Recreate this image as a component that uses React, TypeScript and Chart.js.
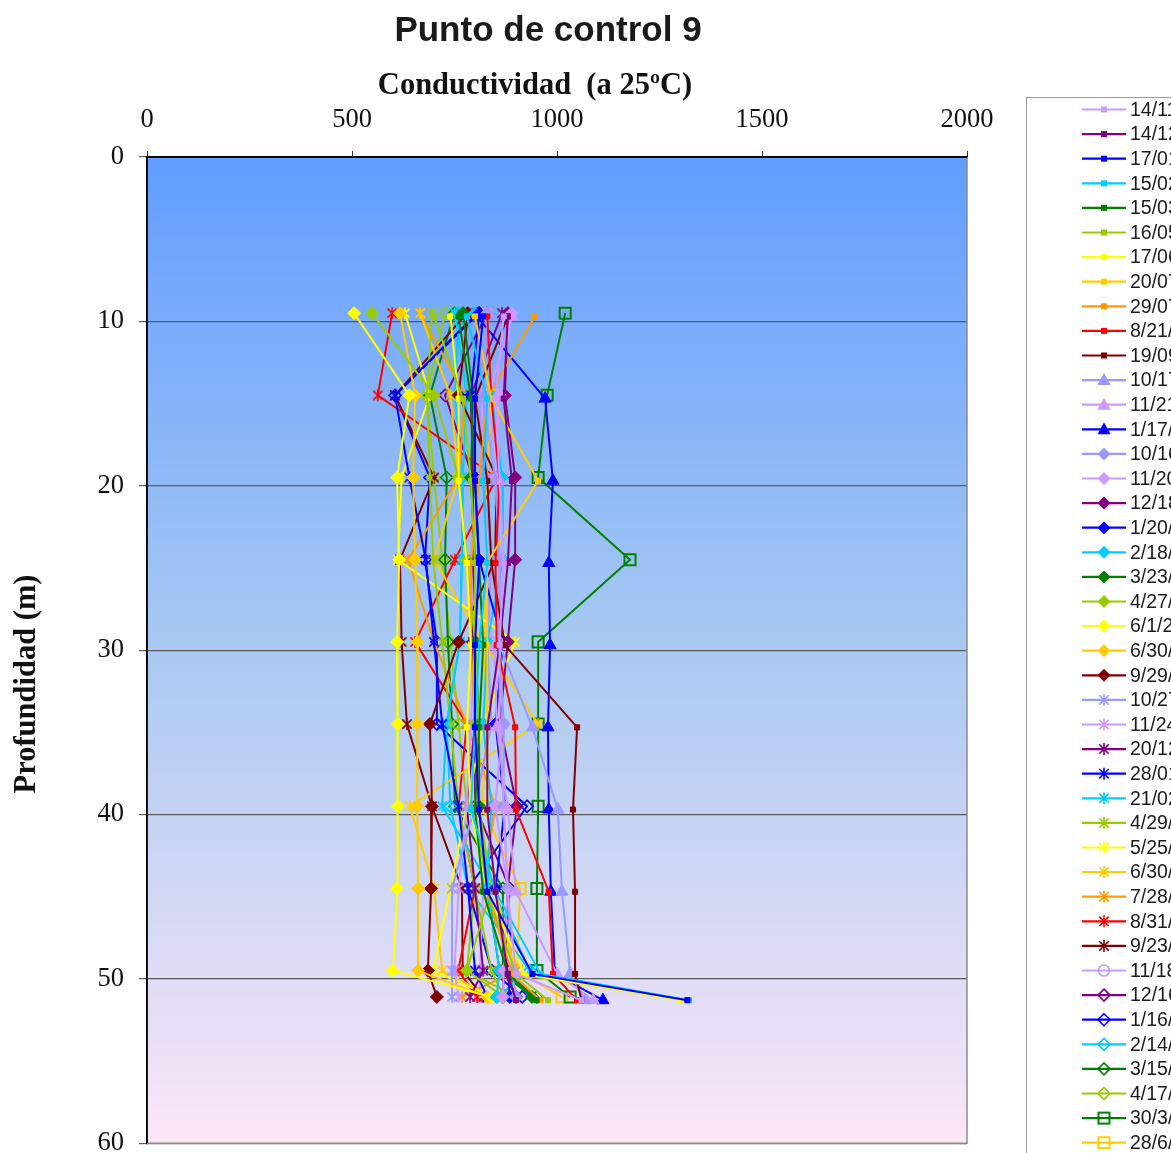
import React, { useEffect, useRef } from "react";
import { Chart, registerables } from "chart.js";
Chart.register(...registerables);

// ---------- axis / tick data ----------
const xTicksMin = 0;
const xTicksMax = 2000;
const xStep = 500;
const yMin = 0;
const yMax = 60;
const yStep = 10;

// depths (m) of the sampling rows
const depthsA = [9.5, 14.5, 19.5, 24.5, 29.5, 34.5, 39.5, 44.5, 49.5, 51.1];
const depthsB = [9.7, 14.7, 19.7, 24.7, 29.7, 34.7, 39.7, 44.7, 49.7, 51.3];

// ---------- series labels ----------
const seriesLabels = [
  "14/11/2005", "14/12/2005", "17/01/2006", "15/02/2006", "15/03/2006", "16/05/2006",
  "17/06/2006", "20/07/2006", "29/07/2006", "8/21/2006", "19/09/2006",
  "10/17/2006", "11/21/2006", "1/17/2007",
  "10/16/2007", "11/20/2007", "12/18/2007", "1/20/2008", "2/18/2008", "3/23/2008",
  "4/27/2008", "6/1/2008", "6/30/2008", "9/29/2008",
  "10/27/2008", "11/24/2008", "20/12/2008", "28/01/2009", "21/02/2009", "4/29/2009",
  "5/25/2009", "6/30/2009", "7/28/2009", "8/31/2009", "9/23/2009",
  "11/18/2009",
  "12/16/2009", "1/16/2010", "2/14/2010", "3/15/2010", "4/17/2010",
  "30/3/2011", "28/6/2011",
];

// ---------- series values: conductivity (µS/cm) at each depth row ----------
const sq_14_11 = [870, 850, 860, 870, 860, 860, 870, 880, 900, 1060];
const sq_14_12 = [880, 870, 890, 880, 860, 830, 830, 850, 880, 900];
const sq_17_01 = [820, 800, 800, 810, 800, 800, 810, 830, 940, 1318];
const sq_15_02 = [780, 830, 820, 830, 810, 800, 790, 850, 960, 1322];
const sq_15_03 = [760, 790, 800, 810, 820, 810, 800, 820, 880, 950];
const sq_16_05 = [700, 770, 790, 800, 800, 810, 800, 830, 900, 978];
const sq_17_06 = [740, 760, 760, 780, 790, 780, 790, 830, 920, 1300];
const sq_20_07 = [800, 840, 954, 829, 830, 830, 830, 850, 900, 1316];
const sq_29_07 = [946, 830, 810, 790, 790, 800, 810, 830, 890, 960];
const sq_8_21 = [830, 840, 860, 850, 853, 898, 900, 980, 990, 1049];
const sq_19_09 = [880, 800, 830, 840, 873, 1049, 1039, 1044, 1044, 1060];

const tri_10_17 = [830, 820, 850, 860, 860, 940, 1002, 1012, 1032, 1068];
const tri_11_21 = [890, 830, 860, 870, 849, 853, 880, 900, 1000, 1088];
const tri_1_17 = [805, 971, 990, 980, 983, 978, 980, 985, 995, 1112];

const dia_10_16 = [830, 810, 820, 840, 860, 870, 870, 880, 890, 900];
const dia_11_20 = [890, 860, 850, 860, 860, 868, 849, 880, 870, 868];
const dia_12_18 = [880, 873, 898, 898, 880, 860, 902, 880, 870, 900];
const dia_1_20 = [810, 790, 800, 810, 868, 850, 873, 850, 880, 885];
const dia_2_18 = [800, 840, 866, 868, 830, 820, 840, 830, 860, 853];
const dia_3_23 = [771, 795, 790, 800, 800, 810, 810, 830, 860, 939];
const dia_4_27 = [549, 700, 760, 780, 800, 800, 810, 840, 780, 870];
const dia_6_1 = [505, 640, 610, 615, 610, 612, 612, 610, 600, 841];
const dia_6_30 = [617, 654, 649, 654, 660, 659, 659, 661, 661, 830];
const dia_9_29 = [783, 760, 853, 849, 760, 690, 695, 693, 685, 707];

const st_10_27 = [800, 820, 830, 840, 830, 840, 800, 744, 744, 744];
const st_11_24 = [829, 820, 810, 790, 800, 790, 780, 760, 750, 760];
const st_20_12 = [866, 790, 795, 795, 795, 800, 780, 800, 820, 788];
const st_28_01 = [805, 605, 640, 680, 700, 720, 760, 783, 800, 830];
const st_21_02 = [751, 780, 770, 768, 763, 731, 720, 841, 934, 853];
const st_4_29 = [695, 683, 690, 698, 720, 740, 760, 800, 840, 870];
const st_5_25 = [629, 690, 621, 612, 898, 820, 780, 740, 698, 841];
const st_6_30 = [666, 740, 760, 700, 820, 954, 641, 700, 720, 841];
const st_7_28 = [666, 776, 760, 637, 700, 780, 850, 817, 900, 768];
const st_8_31 = [598, 563, 853, 751, 654, 780, 760, 800, 759, 805];
const st_9_23 = [780, 605, 700, 617, 621, 634, 695, 768, 770, 820];

const ci_11_18 = [830, 810, 820, 830, 840, 868, 849, 820, 812, 812];

const od_12_16 = [830, 727, 795, 795, 795, 800, 800, 885, 870, 868];
const od_1_16 = [810, 605, 690, 678, 707, 707, 927, 783, 841, 915];
const od_2_14 = [760, 751, 770, 768, 763, 731, 740, 783, 934, 853];
const od_3_15 = [750, 690, 731, 727, 734, 744, 751, 868, 868, 951];
const od_4_17 = [727, 683, 700, 720, 740, 760, 780, 800, 780, 900];

const os_30_3 = [1020, 976, 954, 1178, 954, 954, 954, 951, 951, 1032];
const os_28_6 = [null, 841, 829, 829, 820, 829, 817, 910, 902, 1012];

const seriesValues = [
  sq_14_11, sq_14_12, sq_17_01, sq_15_02, sq_15_03, sq_16_05, sq_17_06, sq_20_07, sq_29_07, sq_8_21, sq_19_09,
  tri_10_17, tri_11_21, tri_1_17,
  dia_10_16, dia_11_20, dia_12_18, dia_1_20, dia_2_18, dia_3_23, dia_4_27, dia_6_1, dia_6_30, dia_9_29,
  st_10_27, st_11_24, st_20_12, st_28_01, st_21_02, st_4_29, st_5_25, st_6_30, st_7_28, st_8_31, st_9_23,
  ci_11_18,
  od_12_16, od_1_16, od_2_14, od_3_15, od_4_17,
  os_30_3, os_28_6,
];

// ---------- styles ----------
const LAV = "#CC99FF", PUR = "#800080", BLU = "#0000FF", CYA = "#00CCFF", GRN = "#008000",
  YGR = "#99CC00", YEL = "#FFFF00", GLD = "#FFCC00", ORA = "#FF9900", RED = "#FF0000",
  DRD = "#800000", PER = "#9999FF";

const seriesColors = [
  LAV, PUR, BLU, CYA, GRN, YGR, YEL, GLD, ORA, RED, DRD,
  PER, LAV, BLU,
  PER, LAV, PUR, BLU, CYA, GRN, YGR, YEL, GLD, DRD,
  PER, LAV, PUR, BLU, CYA, YGR, YEL, GLD, ORA, RED, DRD,
  LAV,
  PUR, BLU, CYA, GRN, YGR,
  GRN, GLD,
];

const seriesMarkers = [
  "sq", "sq", "sq", "sq", "sq", "sq", "sq", "sq", "sq", "sq", "sq",
  "tri", "tri", "tri",
  "dia", "dia", "dia", "dia", "dia", "dia", "dia", "dia", "dia", "dia",
  "star", "star", "star", "star", "star", "star", "star", "star", "star", "star", "star",
  "circ",
  "odia", "odia", "odia", "odia", "odia",
  "osq", "osq",
];

function makeStar(color: string, size: number) {
  const c = document.createElement("canvas");
  c.width = size;
  c.height = size;
  const g = c.getContext("2d")!;
  const m = size / 2;
  const r = size / 2 - 1;
  g.strokeStyle = color;
  g.lineWidth = 1.6;
  g.beginPath();
  g.moveTo(m, m - r);
  g.lineTo(m, m + r);
  const d = r * 0.78;
  g.moveTo(m - d, m - d);
  g.lineTo(m + d, m + d);
  g.moveTo(m + d, m - d);
  g.lineTo(m - d, m + d);
  g.stroke();
  return c;
}

function drawMarker(ctx: CanvasRenderingContext2D, kind: string, x: number, y: number, color: string) {
  ctx.save();
  ctx.fillStyle = color;
  ctx.strokeStyle = color;
  ctx.lineWidth = 1.6;
  ctx.beginPath();
  if (kind === "sq") {
    ctx.fillRect(x - 3, y - 3, 6, 6);
  } else if (kind === "tri") {
    ctx.moveTo(x, y - 7);
    ctx.lineTo(x + 6.5, y + 5);
    ctx.lineTo(x - 6.5, y + 5);
    ctx.closePath();
    ctx.fill();
  } else if (kind === "dia") {
    ctx.moveTo(x, y - 6.5);
    ctx.lineTo(x + 6.5, y);
    ctx.lineTo(x, y + 6.5);
    ctx.lineTo(x - 6.5, y);
    ctx.closePath();
    ctx.fill();
  } else if (kind === "star") {
    const r = 6, d = 4.7;
    ctx.moveTo(x, y - r); ctx.lineTo(x, y + r);
    ctx.moveTo(x - d, y - d); ctx.lineTo(x + d, y + d);
    ctx.moveTo(x + d, y - d); ctx.lineTo(x - d, y + d);
    ctx.stroke();
  } else if (kind === "circ") {
    ctx.arc(x, y, 5.5, 0, Math.PI * 2);
    ctx.stroke();
  } else if (kind === "odia") {
    ctx.moveTo(x, y - 6);
    ctx.lineTo(x + 6, y);
    ctx.lineTo(x, y + 6);
    ctx.lineTo(x - 6, y);
    ctx.closePath();
    ctx.stroke();
  } else if (kind === "osq") {
    ctx.lineWidth = 2;
    ctx.strokeRect(x - 5.5, y - 5.5, 11, 11);
  }
  ctx.restore();
}

const decorPlugin = {
  id: "decor",
  beforeDraw(chart: any) {
    const { ctx, chartArea: a } = chart;
    if (!a) return;
    const g = ctx.createLinearGradient(0, a.top, 0, a.bottom);
    g.addColorStop(0, "#619DFF");
    g.addColorStop(0.5, "#A9C9F2");
    g.addColorStop(1, "#FBE6F7");
    ctx.save();
    ctx.fillStyle = g;
    ctx.fillRect(a.left, a.top, a.right - a.left, a.bottom - a.top);
    ctx.restore();
  },
  afterDatasetsDraw(chart: any) {
    const { ctx, chartArea: a } = chart;
    ctx.save();
    ctx.strokeStyle = "#8C8C8C";
    ctx.lineWidth = 1.5;
    ctx.beginPath();
    ctx.moveTo(a.left, a.bottom);
    ctx.lineTo(a.right, a.bottom);
    ctx.lineTo(a.right, a.top);
    ctx.stroke();
    ctx.strokeStyle = "#000";
    ctx.lineWidth = 1.5;
    ctx.beginPath();
    ctx.moveTo(a.left, a.bottom);
    ctx.lineTo(a.left, a.top);
    ctx.lineTo(a.right, a.top);
    ctx.stroke();
    ctx.restore();
  },
  afterDraw(chart: any) {
    const { ctx } = chart;
    ctx.save();
    ctx.fillStyle = "#1a1a1a";
    ctx.textAlign = "center";
    ctx.textBaseline = "middle";
    ctx.font = 'bold 35px "Liberation Sans", Arial, sans-serif';
    ctx.fillText("Punto de control 9", 548, 31);
    ctx.fillStyle = "#111";
    ctx.font = 'bold 30.5px "Liberation Serif", "Times New Roman", serif';
    ctx.fillText("Conductividad  (a 25ºC)", 535, 86);
    ctx.save();
    ctx.translate(27, 684);
    ctx.rotate(-Math.PI / 2);
    ctx.fillText("Profundidad (m)", 0, 0);
    ctx.restore();

    // legend
    const lx = 1026.5, ly = 97.5;
    ctx.fillStyle = "#FFFFFF";
    ctx.fillRect(lx, ly, 300, 1200);
    ctx.strokeStyle = "#9A9A9A";
    ctx.lineWidth = 1;
    ctx.strokeRect(lx, ly, 300, 1200);
    ctx.font = '19.5px "Liberation Sans", Arial, sans-serif';
    ctx.textAlign = "left";
    ctx.textBaseline = "middle";
    for (let i = 0; i < seriesLabels.length; i++) {
      const y = 109.5 + i * 24.6;
      const col = seriesColors[i];
      ctx.strokeStyle = col;
      ctx.lineWidth = 2.2;
      ctx.beginPath();
      ctx.moveTo(1082, y);
      ctx.lineTo(1126, y);
      ctx.stroke();
      drawMarker(ctx, seriesMarkers[i], 1104, y, col);
      ctx.fillStyle = "#1a1a1a";
      ctx.fillText(seriesLabels[i], 1130, y + 1);
    }
    ctx.restore();
  },
};

export default function App() {
  const ref = useRef<HTMLCanvasElement | null>(null);
  useEffect(() => {
    const canvas = ref.current!;
    const datasets = seriesValues.map((vals, i) => {
      const kind = seriesMarkers[i];
      const col = seriesColors[i];
      const depths = kind === "sq" || kind === "tri" ? depthsB : depthsA;
      const data: { x: number; y: number }[] = [];
      vals.forEach((v, j) => {
        if (v !== null && v !== undefined) data.push({ x: v as number, y: depths[j] });
      });
      let pointStyle: any = "circle";
      let radius = 5;
      let bg = col;
      let pbw = 1;
      if (kind === "sq") { pointStyle = "rect"; radius = 3.6; }
      else if (kind === "tri") { pointStyle = "triangle"; radius = 7; }
      else if (kind === "dia") { pointStyle = "rectRot"; radius = 6.5; }
      else if (kind === "star") { pointStyle = makeStar(col, 14); radius = 7; }
      else if (kind === "circ") { pointStyle = "circle"; radius = 5.5; bg = "rgba(0,0,0,0)"; pbw = 1.6; }
      else if (kind === "odia") { pointStyle = "rectRot"; radius = 6; bg = "rgba(0,0,0,0)"; pbw = 1.6; }
      else if (kind === "osq") { pointStyle = "rect"; radius = 7.8; bg = "rgba(0,0,0,0)"; pbw = 2; }
      return {
        label: seriesLabels[i],
        data,
        borderColor: col,
        backgroundColor: bg,
        borderWidth: 2,
        pointStyle,
        pointRadius: radius,
        pointBackgroundColor: bg,
        pointBorderColor: col,
        pointBorderWidth: pbw,
        fill: false,
        tension: 0,
      };
    });

    const tickFont = { family: '"Liberation Serif", "Times New Roman", serif', size: 26.5 };
    const chart = new Chart(canvas, {
      type: "line",
      data: { datasets },
      options: {
        animation: false,
        responsive: false,
        events: [],
        layout: { padding: { left: 0, top: 0, right: 204, bottom: 8 } },
        plugins: { legend: { display: false }, tooltip: { enabled: false }, title: { display: false } },
        scales: {
          x: {
            type: "linear",
            position: "top",
            min: xTicksMin,
            max: xTicksMax,
            ticks: { stepSize: xStep, font: tickFont, color: "#111", padding: 15, maxRotation: 0, callback: (v: any) => String(v) },
            grid: { drawOnChartArea: false, drawTicks: true, tickLength: 6, color: "#333" },
            border: { display: true, color: "#000", width: 1.5 },
            afterFit: (s: any) => { s.height = 157; s.paddingLeft = 0; s.paddingRight = 0; },
          },
          y: {
            type: "linear",
            reverse: true,
            min: yMin,
            max: yMax,
            ticks: { stepSize: yStep, font: tickFont, color: "#111", padding: 15, callback: (v: any) => String(v) },
            grid: { drawOnChartArea: true, drawTicks: true, tickLength: 8, color: "#5A5A5A", lineWidth: 1.2 },
            border: { display: true, color: "#000", width: 1.5 },
            afterFit: (s: any) => { s.width = 147; s.paddingTop = 0; s.paddingBottom = 0; },
          },
        },
      },
      plugins: [decorPlugin],
    } as any);
    return () => chart.destroy();
  }, []);
  return (
    <div style={{ position: "absolute", left: 0, top: 0, width: 1171, height: 1153, overflow: "hidden" }}>
      <canvas ref={ref} width={1171} height={1153} style={{ display: "block" }} />
    </div>
  );
}
